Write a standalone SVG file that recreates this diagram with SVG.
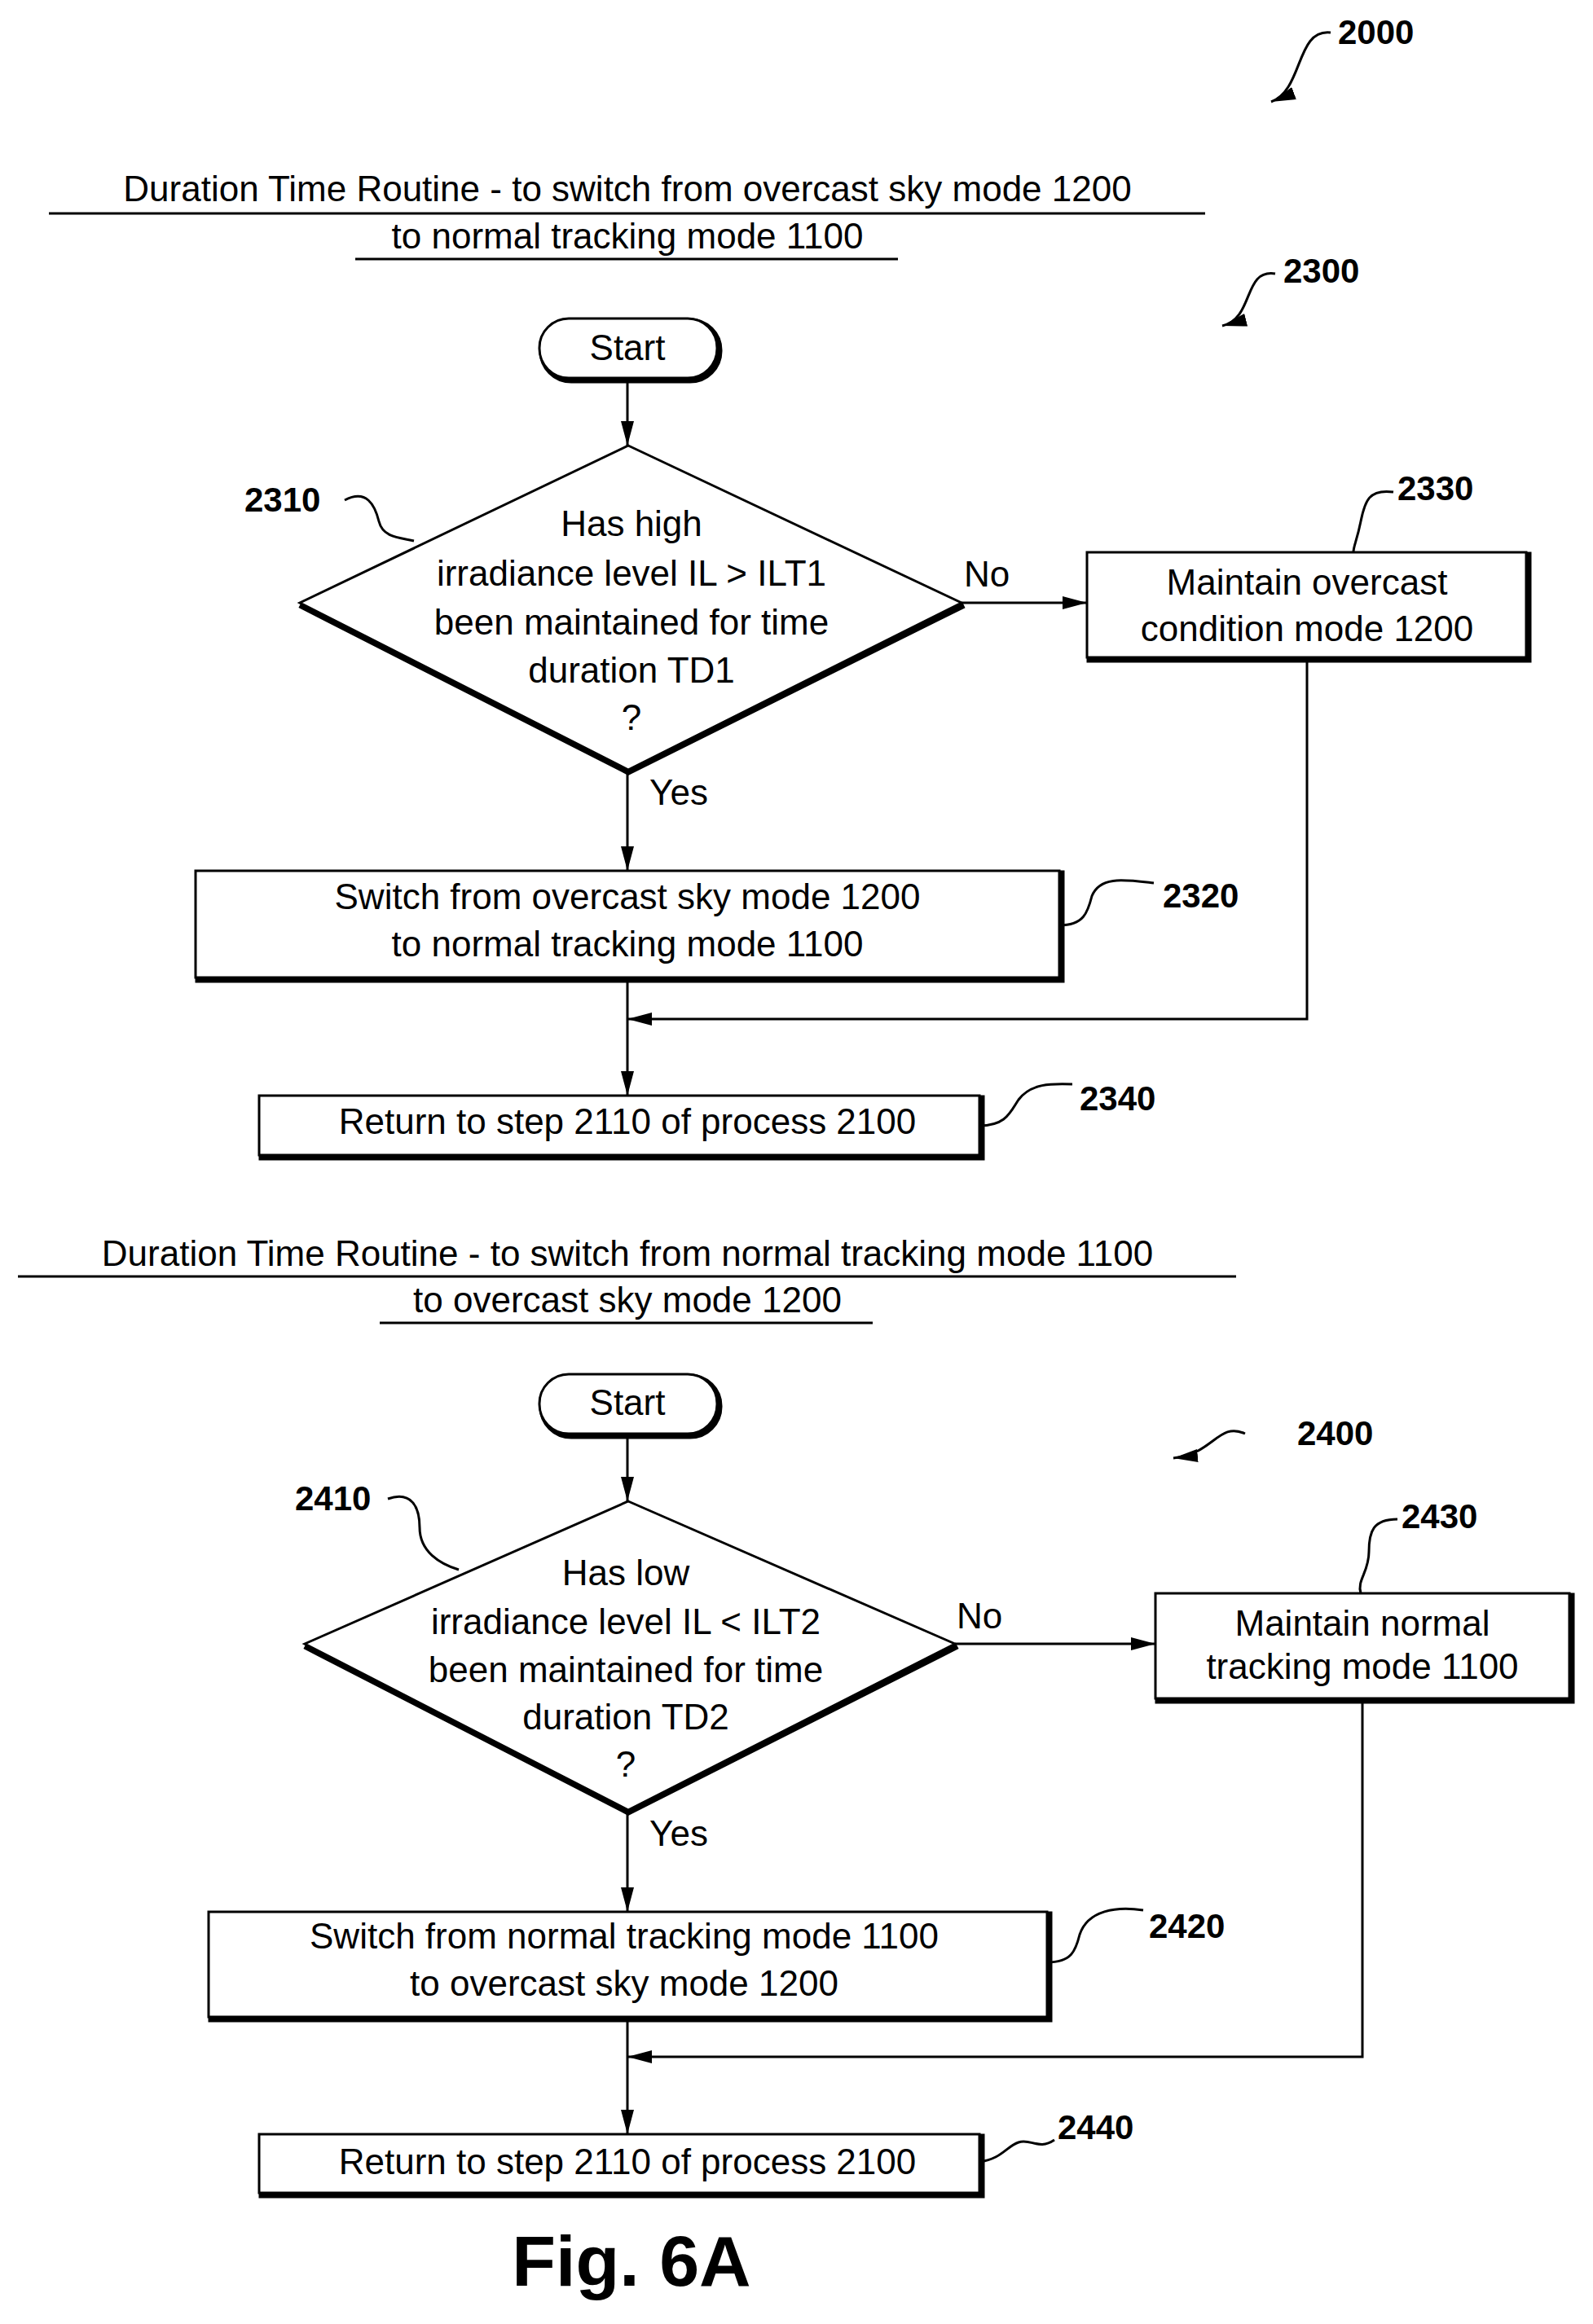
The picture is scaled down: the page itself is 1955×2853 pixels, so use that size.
<svg xmlns="http://www.w3.org/2000/svg" width="1955" height="2853" viewBox="0 0 1955 2853">
<style>
text{font-family:"Liberation Sans",Arial,sans-serif;fill:#000}
.t{font-size:44px;text-anchor:middle}
.n{font-size:42px;font-weight:bold}
.b{fill:#fff;stroke:#000;stroke-width:3}
.s{fill:none;stroke:#000;stroke-width:7}
.l{fill:none;stroke:#000;stroke-width:3}
.u{stroke:#000;stroke-width:3}
</style>
<defs>
<marker id="a" viewBox="0 0 10 10" refX="10" refY="5" markerWidth="8" markerHeight="8" markerUnits="userSpaceOnUse" orient="auto"><path d="M0,0 L10,5 L0,10 z"/></marker>
<marker id="m" viewBox="0 0 30 16" refX="30" refY="8" markerWidth="30" markerHeight="16" markerUnits="userSpaceOnUse" orient="auto"><path d="M0,0 L30,8 L0,16 z"/></marker>
</defs>
<g id="titles">
<text class="t" x="770" y="247">Duration Time Routine - to switch from overcast sky mode 1200</text>
<line class="u" x1="60" y1="262" x2="1479" y2="262"/>
<text class="t" x="770" y="305">to normal tracking mode 1100</text>
<line class="u" x1="436" y1="318" x2="1102" y2="318"/>
<text class="t" x="770" y="1554">Duration Time Routine - to switch from normal tracking mode 1100</text>
<line class="u" x1="22" y1="1567" x2="1517" y2="1567"/>
<text class="t" x="770" y="1611">to overcast sky mode 1200</text>
<line class="u" x1="466" y1="1624" x2="1071" y2="1624"/>
<text x="775" y="2806" style="font-size:88px;font-weight:bold;text-anchor:middle">Fig. 6A</text>
</g>
<g id="refs">
<text class="n" x="1642" y="54">2000</text>
<path class="l" d="M1633,40 C1590,35 1600,110 1560,125" marker-end="url(#m)"/>
<text class="n" x="1575" y="347">2300</text>
<path class="l" d="M1565,336 C1525,330 1540,390 1500,400" marker-end="url(#m)"/>
<text class="n" x="1592" y="1774">2400</text>
<path class="l" d="M1528,1760 C1495,1745 1490,1785 1440,1790" marker-end="url(#m)"/>
<text class="n" x="300" y="628">2310</text>
<path class="l" d="M423,614 C450,600 460,620 465,640 C470,660 490,660 508,664"/>
<text class="n" x="1715" y="614">2330</text>
<path class="l" d="M1710,604 C1680,600 1675,615 1670,640 C1665,665 1661,670 1661,678"/>
<text class="n" x="1427" y="1114">2320</text>
<path class="l" d="M1300,1136 C1330,1136 1335,1120 1340,1100 C1350,1075 1380,1080 1416,1084"/>
<text class="n" x="1325" y="1363">2340</text>
<path class="l" d="M1202,1382 C1235,1382 1240,1365 1250,1350 C1265,1330 1290,1330 1316,1331"/>
<text class="n" x="362" y="1854">2410</text>
<path class="l" d="M476,1840 C505,1830 515,1850 515,1875 C515,1905 540,1920 563,1927"/>
<text class="n" x="1720" y="1876">2430</text>
<path class="l" d="M1715,1865 C1685,1865 1680,1880 1680,1905 C1680,1930 1665,1940 1670,1956"/>
<text class="n" x="1410" y="2379">2420</text>
<path class="l" d="M1285,2409 C1315,2409 1320,2395 1325,2375 C1335,2345 1370,2340 1403,2345"/>
<text class="n" x="1298" y="2626">2440</text>
<path class="l" d="M1202,2654 C1230,2650 1235,2635 1250,2630 C1265,2625 1275,2640 1294,2627"/>
</g>
<g id="connectors">
<line class="l" x1="770" y1="464" x2="770" y2="547" marker-end="url(#m)"/>
<line class="l" x1="1180" y1="740" x2="1334" y2="740" marker-end="url(#m)"/>
<line class="l" x1="770" y1="945" x2="770" y2="1069" marker-end="url(#m)"/>
<polyline class="l" points="1604,807 1604,1251 770,1251" marker-end="url(#m)"/>
<line class="l" x1="770" y1="1200" x2="770" y2="1345" marker-end="url(#m)"/>
<line class="l" x1="770" y1="1760" x2="770" y2="1843" marker-end="url(#m)"/>
<line class="l" x1="1172" y1="2018" x2="1418" y2="2018" marker-end="url(#m)"/>
<line class="l" x1="770" y1="2222" x2="770" y2="2347" marker-end="url(#m)"/>
<polyline class="l" points="1672,2085 1672,2525 770,2525" marker-end="url(#m)"/>
<line class="l" x1="770" y1="2476" x2="770" y2="2620" marker-end="url(#m)"/>
<text class="t" x="1211" y="720">No</text>
<text class="t" x="833" y="988">Yes</text>
<text class="t" x="1202" y="1999">No</text>
<text class="t" x="833" y="2266">Yes</text>
</g>
<g id="start1">
<rect x="665" y="394" width="218" height="73" rx="36" class="s"/>
<rect x="662" y="391" width="218" height="73" rx="36" class="b"/>
<text class="t" x="770" y="442">Start</text>
</g>
<g id="n2310">
<polyline class="s" points="368,743 771,948 1183,743"/>
<polygon class="b" points="771,547 1180,740 771,945 368,740"/>
<text class="t" x="775" y="658">Has high</text>
<text class="t" x="775" y="719">irradiance level IL &gt; ILT1</text>
<text class="t" x="775" y="779">been maintained for time</text>
<text class="t" x="775" y="838">duration TD1</text>
<text class="t" x="775" y="896">?</text>
</g>
<g id="n2330">
<rect x="1337" y="681" width="539" height="129" class="s"/>
<rect x="1334" y="678" width="539" height="129" class="b"/>
<text class="t" x="1604" y="730">Maintain overcast</text>
<text class="t" x="1604" y="787">condition mode 1200</text>
</g>
<g id="n2320">
<rect x="243" y="1072" width="1060" height="131" class="s"/>
<rect x="240" y="1069" width="1060" height="131" class="b"/>
<text class="t" x="770" y="1116">Switch from overcast sky mode 1200</text>
<text class="t" x="770" y="1174">to normal tracking mode 1100</text>
</g>
<g id="n2340">
<rect x="321" y="1348" width="884" height="73" class="s"/>
<rect x="318" y="1345" width="884" height="73" class="b"/>
<text class="t" x="770" y="1392">Return to step 2110 of process 2100</text>
</g>
<g id="start2">
<rect x="665" y="1690" width="218" height="73" rx="36" class="s"/>
<rect x="662" y="1687" width="218" height="73" rx="36" class="b"/>
<text class="t" x="770" y="1737">Start</text>
</g>
<g id="n2410">
<polyline class="s" points="374,2021 771,2225 1175,2021"/>
<polygon class="b" points="771,1843 1172,2018 771,2222 374,2018"/>
<text class="t" x="768" y="1946">Has low</text>
<text class="t" x="768" y="2006">irradiance level IL &lt; ILT2</text>
<text class="t" x="768" y="2065">been maintained for time</text>
<text class="t" x="768" y="2123">duration TD2</text>
<text class="t" x="768" y="2181">?</text>
</g>
<g id="n2430">
<rect x="1421" y="1959" width="508" height="129" class="s"/>
<rect x="1418" y="1956" width="508" height="129" class="b"/>
<text class="t" x="1672" y="2008">Maintain normal</text>
<text class="t" x="1672" y="2061">tracking mode 1100</text>
</g>
<g id="n2420">
<rect x="259" y="2350" width="1029" height="129" class="s"/>
<rect x="256" y="2347" width="1029" height="129" class="b"/>
<text class="t" x="766" y="2392">Switch from normal tracking mode 1100</text>
<text class="t" x="766" y="2450">to overcast sky mode 1200</text>
</g>
<g id="n2440">
<rect x="321" y="2623" width="884" height="72" class="s"/>
<rect x="318" y="2620" width="884" height="72" class="b"/>
<text class="t" x="770" y="2669">Return to step 2110 of process 2100</text>
</g>
</svg>
